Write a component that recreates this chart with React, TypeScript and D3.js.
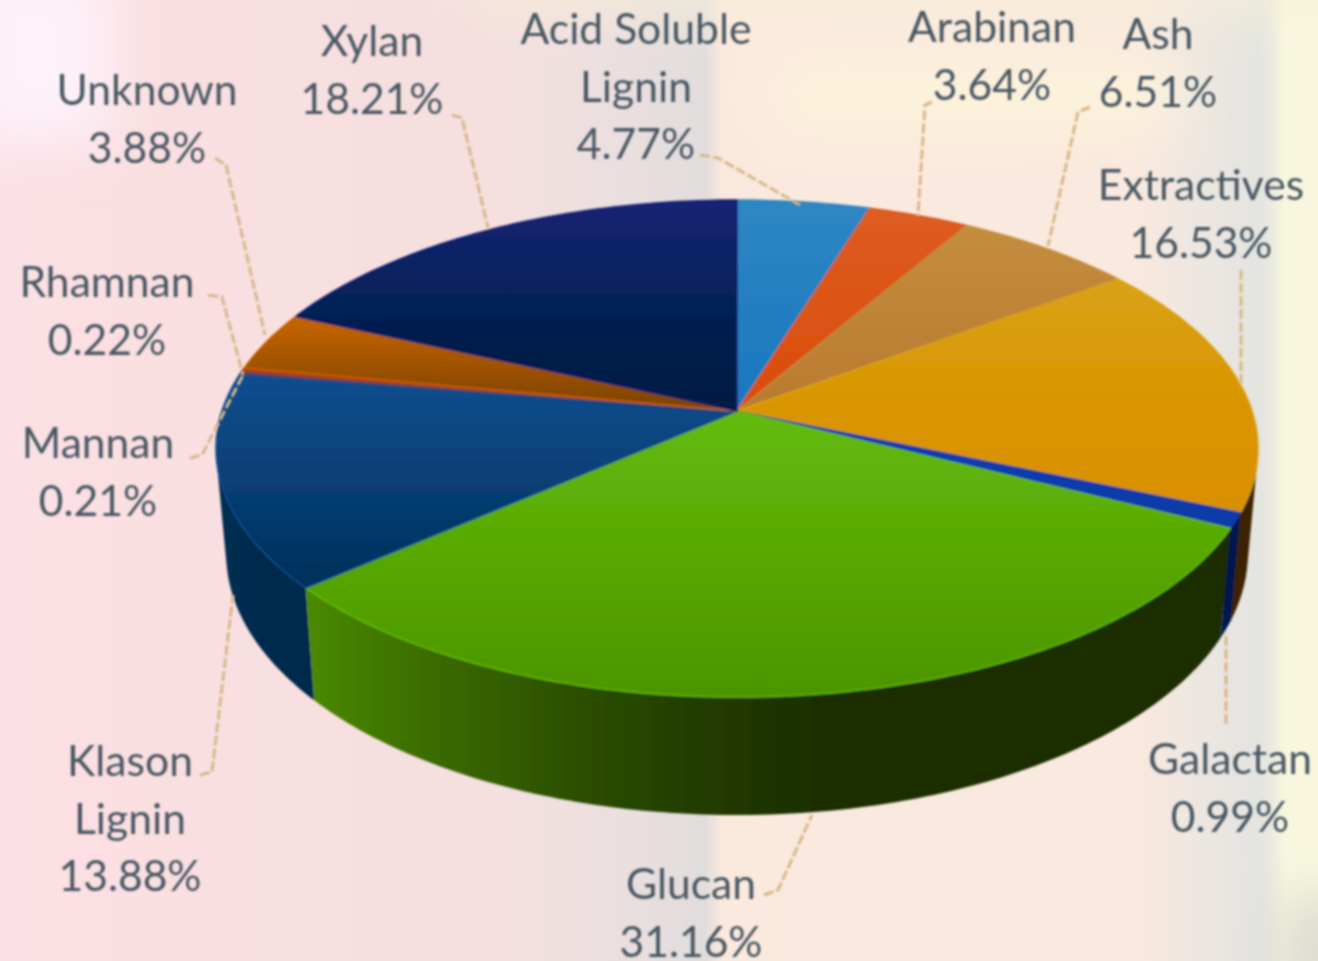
import React from 'react';
import * as d3 from 'd3';

const W = 1318;
const H = 961;

// values as printed on the labels, clockwise from 12 o'clock
const names = ['Acid Soluble Lignin', 'Arabinan', 'Ash', 'Extractives', 'Galactan', 'Glucan', 'Klason Lignin', 'Mannan', 'Rhamnan', 'Unknown', 'Xylan'];
const values = [4.77, 3.64, 6.51, 16.53, 0.99, 31.16, 13.88, 0.21, 0.22, 3.88, 18.21];

// top face gradient (upper to lower), wall gradient (left to right), evenly spaced stops
const topColors = [
  ['#2f87c2', '#1a76c0'], ['#de5c22', '#d94c08'], ['#c48d3e', '#b97a30'], ['#d9a218', '#d99600', '#d99000'],
  ['#0b3fb4', '#0a3aa6'], ['#64bb0a', '#4b9500'], ['#0f4e90', '#00305a'], ['#3f4a73', '#3f4a73'],
  ['#b43a0c', '#b03a0c'], ['#c86500', '#7a4200'], ['#1a2176', '#0a2360', '#001e4c', '#011b43'],
];
const wallColors = [
  ['#123f63', '#0f3450'], ['#6d2607', '#6d2607'], ['#5d3c17', '#5d3c17'], ['#4a2a00', '#3a2000'],
  ['#00184f', '#001a55'],
  ['#4a8a03', '#3a6a04', '#2c5000', '#223c00', '#1c2d00', '#1c2d00', '#1d2e00', '#1e2e00'],
  ['#002e52', '#00294a'], ['#222222', '#222222'],
  ['#5a1a05', '#5a1a05'], ['#4a2600', '#4a2600'], ['#001030', '#001030'],
];

// label layout: centre x, first baseline
const labelLines: Record<string, string[]> = {
  'Acid Soluble Lignin': ['Acid Soluble', 'Lignin'],
  'Klason Lignin': ['Klason', 'Lignin'],
};
const labelPos: Record<string, [number, number]> = {
  'Acid Soluble Lignin': [636, 44], Arabinan: [992, 42], Ash: [1158, 49], Extractives: [1201, 200],
  Galactan: [1230, 774], Glucan: [691, 899], 'Klason Lignin': [130, 776], Mannan: [98, 458],
  Rhamnan: [107, 297], Unknown: [147, 105], Xylan: [372, 56],
};
const leaders: [number, number][][] = [
  [[700, 155], [718, 158], [800, 205]],
  [[932, 102], [925, 105], [918, 216]],
  [[1090, 107], [1078, 112], [1048, 246]],
  [[1241, 270], [1241, 384]],
  [[1226, 724], [1226, 632]],
  [[764, 895], [778, 890], [812, 815]],
  [[200, 775], [212, 772], [233, 595]],
  [[190, 458], [202, 455], [243, 375]],
  [[208, 295], [222, 297], [243, 375]],
  [[215, 158], [226, 165], [265, 335]],
  [[452, 115], [462, 118], [488, 228]],
];

const CX = 737;
const K = 0.151; // perspective tilt
const topDisc = { a: 515, b: 180.8, c: 411 };
const baseDisc = { a: 505, b: 178, c: 514 };

// angle on the pie -> picture position
const project = (disc: typeof topDisc, angle: number): [number, number] => {
  const u = Math.sin(angle);
  const v = -Math.cos(angle);
  const w = 1 - K * v;
  return [CX + (disc.a * u) / w, (disc.c + disc.b * v) / w];
};

const arcs = d3.pie<number>().sort(null).value((d) => d)(values);
const line = d3.line();
const samples = (s: number, e: number) => {
  const n = Math.max(2, Math.ceil((e - s) * 60));
  return d3.range(n + 1).map((i) => s + ((e - s) * i) / n);
};

const topPath = (s: number, e: number) =>
  line([[CX, topDisc.c], ...samples(s, e).map((a) => project(topDisc, a))]) + 'Z';
// hull of both rims, so the side silhouette is the straight tangent; the top face hides the rest
const wallPath = (s: number, e: number) => {
  const pts = samples(s, e);
  const hull = d3.polygonHull([...pts.map((a) => project(topDisc, a)), ...pts.map((a) => project(baseDisc, a))]);
  return line(hull as [number, number][]) + 'Z';
};

const yRange = (s: number, e: number) => {
  const ys = [[CX, topDisc.c], ...samples(s, e).map((a) => project(topDisc, a))].map((p) => p[1]);
  return d3.extent(ys) as [number, number];
};

// the walls have to go back to front
const wallOrder = d3.range(arcs.length).sort(
  (i, j) => -Math.cos((arcs[i].startAngle + arcs[i].endAngle) / 2) - -Math.cos((arcs[j].startAngle + arcs[j].endAngle) / 2),
);

const stops = (colors: string[]) =>
  colors.map((c, k) => <stop key={k} offset={k / (colors.length - 1)} stopColor={c} />);

const bgStops: [number, string][] = [
  [0, '#fbe1e6'], [0.08, '#fbdfe2'], [0.38, '#f5dfdf'], [0.46, '#ecdfdf'], [0.535, '#e1dddc'], [0.548, '#fbe9de'],
  [0.86, '#fae9de'], [0.9, '#efe7e1'], [0.955, '#e4e4e0'], [0.965, '#eaeae0'], [0.975, '#f8f7de'], [1, '#f8f7de'],
];

export default function App() {
  return (
    <svg width={W} height={H} style={{ position: 'absolute', left: 0, top: 0, display: 'block' }}>
      <defs>
        <linearGradient id="bg" x1="0" x2="1" y1="0" y2="0">
          {bgStops.map(([o, c]) => (
            <stop key={o} offset={o} stopColor={c} />
          ))}
        </linearGradient>
        <filter id="soft" x="-30%" y="-30%" width="160%" height="160%">
          <feGaussianBlur stdDeviation="28" />
        </filter>
        <filter id="blurText" x="-10%" y="-10%" width="120%" height="120%">
          <feGaussianBlur stdDeviation="1" />
        </filter>
        <filter id="blurPie" x="-5%" y="-5%" width="110%" height="110%">
          <feGaussianBlur stdDeviation="0.9" />
        </filter>
        {arcs.map((d, i) => {
          const [y0, y1] = yRange(d.startAngle, d.endAngle);
          return (
            <linearGradient key={i} id={`top${i}`} gradientUnits="userSpaceOnUse" x1="0" x2="0" y1={y0} y2={y1}>
              {stops(topColors[i])}
            </linearGradient>
          );
        })}
        {arcs.map((d, i) => {
          const xs = samples(d.startAngle, d.endAngle).map((a) => project(topDisc, a)[0]);
          const [x0, x1] = d3.extent(xs) as [number, number];
          return (
            <linearGradient key={i} id={`wall${i}`} gradientUnits="userSpaceOnUse" x1={x0} x2={x1} y1="0" y2="0">
              {stops(wallColors[i])}
            </linearGradient>
          );
        })}
      </defs>

      <rect width={W} height={H} fill="url(#bg)" />
      <g filter="url(#soft)">
        <rect x={-40} y={-40} width={150} height={180} fill="#fdf2fa" />
        <rect x={780} y={65} width={400} height={60} fill="#fdf4da" />
        <rect x={480} y={-40} width={900} height={45} fill="#f8f0d8" />
        <rect x={1280} y={900} width={80} height={100} fill="#d8d8d0" />
      </g>

      <g filter="url(#blurPie)">
        {wallOrder.map((i) => (
          <path key={i} d={wallPath(arcs[i].startAngle, arcs[i].endAngle)} fill={`url(#wall${i})`} />
        ))}
        {arcs.map((d, i) => (
          <path key={i} d={topPath(d.startAngle, d.endAngle)} fill={`url(#top${i})`} stroke={topColors[i][0]} strokeWidth={1.5} strokeLinejoin="round" />
        ))}
      </g>

      <g filter="url(#blurText)" fill="none" stroke="#d8b88a" strokeWidth={3} strokeDasharray="10 3">
        {leaders.map((pts, i) => (
          <path key={i} d={line(pts) as string} />
        ))}
      </g>

      <g filter="url(#blurText)" fontFamily="Lato, 'Open Sans', sans-serif" fontSize={42.6} fill="#4a5864" textAnchor="middle">
        {names.map((name, i) => {
          const [x, y] = labelPos[name];
          const rows = [...(labelLines[name] || [name]), `${values[i].toFixed(2)}%`];
          return rows.map((row, r) => (
            <text key={`${i}-${r}`} x={x} y={y + r * 57.5}>
              {row}
            </text>
          ));
        })}
      </g>
    </svg>
  );
}
